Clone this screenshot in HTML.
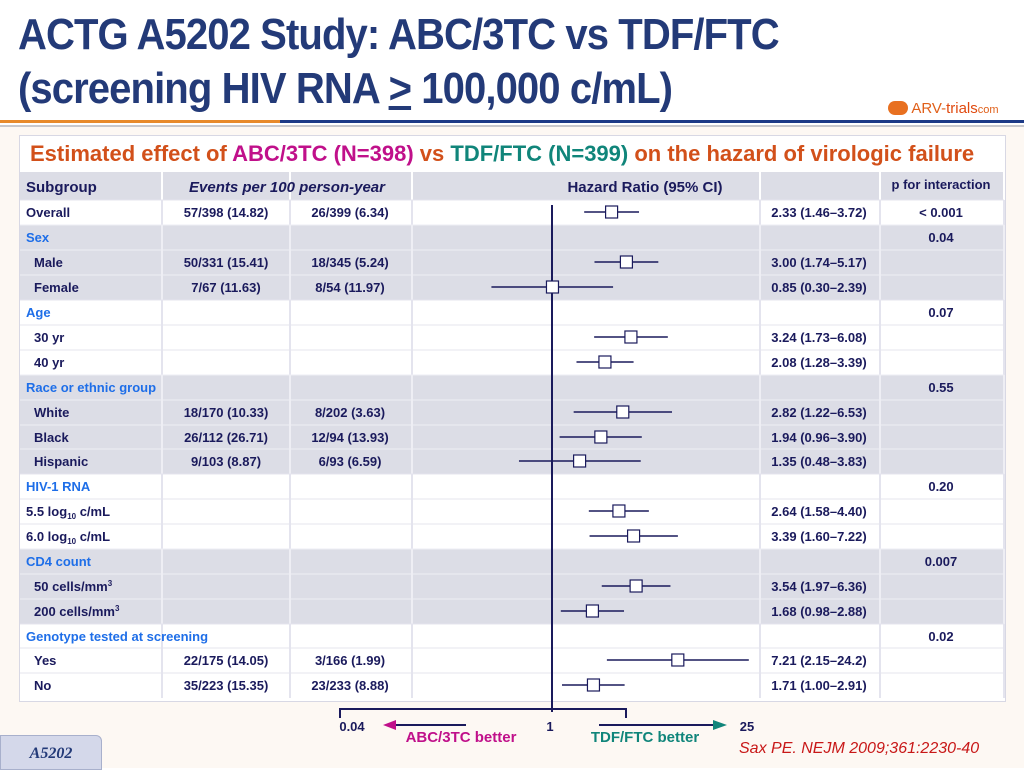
<!DOCTYPE html>
<html><head><meta charset="utf-8">
<style>
body{margin:0;width:1024px;height:768px;overflow:hidden;background:#fff;font-family:"Liberation Sans",sans-serif;position:relative}
.t{position:absolute;left:18px;font-weight:bold;color:#233a78;font-size:44px;letter-spacing:-1px;white-space:nowrap;transform:scaleX(0.91);transform-origin:0 0}
</style></head><body>
<div style="position:absolute;left:0;top:126px;width:1024px;height:642px;background:#fdf8f3"></div>
<div class="t" style="top:10px">ACTG A5202 Study: ABC/3TC vs TDF/FTC</div>
<div class="t" style="top:64px">(screening HIV RNA <u>&gt;</u> 100,000 c/mL)</div>
<div style="position:absolute;left:888px;top:100px;width:130px;height:22px;font-size:15px;color:#e0601a;white-space:nowrap"><span style="display:inline-block;width:20px;height:14px;background:#e87020;border-radius:7px;vertical-align:-2px"></span> ARV-<span style="color:#e04a10">trials</span><span style="font-size:11px">com</span></div>
<div style="position:absolute;left:0;top:120px;width:280px;height:3px;background:#e88a2a"></div>
<div style="position:absolute;left:280px;top:120px;width:744px;height:3px;background:#1c3a86"></div>
<div style="position:absolute;left:0;top:125px;width:1024px;height:2px;background:#c8c8cc"></div>
<div style="position:absolute;left:19px;top:135px;width:985px;height:565px;background:#fff;border:1px solid #d8d8e4"></div>
<div style="position:absolute;left:30px;top:141px;font-size:22px;font-weight:bold;color:#d2501a;white-space:nowrap;letter-spacing:0">Estimated effect of <span style="color:#c0108a">ABC/3TC (N=398)</span> vs <span style="color:#10857a">TDF/FTC (N=399)</span> on the hazard of virologic failure</div>
<svg id="svg" width="1024" height="768" style="position:absolute;left:0;top:0"></svg>
<div style="position:absolute;left:0;top:735px;width:100px;height:33px;background:#d4d8ea;border:1px solid #a8b0cc;border-radius:0 6px 0 0;font-family:'Liberation Serif',serif;font-style:italic;font-weight:bold;color:#233a78;font-size:16px;line-height:36px;text-align:center">A5202</div>
<div style="position:absolute;left:739px;top:740px;font-size:16px;font-style:italic;color:#c81818">Sax PE. NEJM 2009;361:2230-40</div>
<script>
const categories=["Overall","Male","Female","30 yr","40 yr","White","Black","Hispanic","5.5","6.0","50","200","Yes","No"];
const hr=[2.33,3.00,0.85,3.24,2.08,2.82,1.94,1.35,2.64,3.39,3.54,1.68,7.21,1.71];
const lo=[1.46,1.74,0.30,1.73,1.28,1.22,0.96,0.48,1.58,1.60,1.97,0.98,2.15,1.00];
const hi=[3.72,5.17,2.39,6.08,3.39,6.53,3.90,3.83,4.40,7.22,6.36,2.88,24.2,2.91];
const ciLabels=["2.33 (1.46–3.72)","3.00 (1.74–5.17)","0.85 (0.30–2.39)","3.24 (1.73–6.08)","2.08 (1.28–3.39)","2.82 (1.22–6.53)","1.94 (0.96–3.90)","1.35 (0.48–3.83)","2.64 (1.58–4.40)","3.39 (1.60–7.22)","3.54 (1.97–6.36)","1.68 (0.98–2.88)","7.21 (2.15–24.2)","1.71 (1.00–2.91)"];
const rowOf=[0,2,3,5,6,8,9,10,12,13,15,16,18,19];
const axisTicks=["0.04","1","25"];
const rows=[
["Overall","b","57/398 (14.82)","26/399 (6.34)","< 0.001",0],
["Sex","g","","","0.04",1],
["Male","i","50/331 (15.41)","18/345 (5.24)","",1],
["Female","i","7/67 (11.63)","8/54 (11.97)","",1],
["Age","g","","","0.07",0],
["30 yr","i","","","",0],
["40 yr","i","","","",0],
["Race or ethnic group","g","","","0.55",1],
["White","i","18/170 (10.33)","8/202 (3.63)","",1],
["Black","i","26/112 (26.71)","12/94 (13.93)","",1],
["Hispanic","i","9/103 (8.87)","6/93 (6.59)","",1],
["HIV-1 RNA","g","","","0.20",0],
["5.5 log<tspan font-size='8' dy='3'>10</tspan><tspan dy='-3'> c/mL</tspan>","b","","","",0],
["6.0 log<tspan font-size='8' dy='3'>10</tspan><tspan dy='-3'> c/mL</tspan>","b","","","",0],
["CD4 count","g","","","0.007",1],
["50 cells/mm<tspan font-size='8' dy='-5'>3</tspan>","i","","","",1],
["200 cells/mm<tspan font-size='8' dy='-5'>3</tspan>","i","","","",1],
["Genotype tested at screening","g","","","0.02",0],
["Yes","i","22/175 (14.05)","3/166 (1.99)","",0],
["No","i","35/223 (15.35)","23/233 (8.88)","",0]];
const rowY=[212,237,262,287,312,337,362,387,412,437,461,486,511,536,561,586,611,636,660,685];
const svg=document.getElementById('svg');
const NS='http://www.w3.org/2000/svg';
function mk(tag,attrs,html){const e=document.createElementNS(NS,tag);for(const k in attrs)e.setAttribute(k,attrs[k]);if(html!==undefined)e.innerHTML=html;svg.appendChild(e);return e;}
const X0=562,K=135;
function xs(v){return X0+K*Math.log10(v);}
const cols=[[20,162],[162,290],[290,412],[412,760],[760,880],[880,1004]];
const navy='#1a1a5c';
let e=mk('rect',{x:20,y:172,width:984,height:28,fill:'#dcdde6'});


cols.forEach(c=>{mk('line',{x1:c[1],y1:172,x2:c[1],y2:200,stroke:'#fff','stroke-width':2});});
e=mk('text',{x:26,y:192,'font-size':15,'font-weight':'bold',fill:navy},'Subgroup');


e=mk('text',{x:287,y:192,'font-size':15,'font-weight':'bold','font-style':'italic',fill:navy,'text-anchor':'middle'},'Events per 100 person-year');


e=mk('text',{x:645,y:192,'font-size':15,'font-weight':'bold',fill:navy,'text-anchor':'middle'},'Hazard Ratio (95% CI)');


e=mk('text',{x:941,y:189,'font-size':13,'font-weight':'bold',fill:navy,'text-anchor':'middle'},'p for interaction');


rows.forEach((r,i)=>{
 const y=rowY[i]-12;
 const bg=mk('rect',{x:20,y:y,width:984,height:25,fill:r[5]?'#dcdde6':'#fff'});
 
 
 cols.forEach(c=>{mk('line',{x1:c[1],y1:y,x2:c[1],y2:y+25,stroke:r[5]?'#eeeef4':'#e4e4ee','stroke-width':2});});
 mk('line',{x1:20,y1:y,x2:1004,y2:y,stroke:r[5]?'#eeeef4':'#e4e4ee','stroke-width':1});
});
rows.forEach((r,i)=>{
 const y=rowY[i]+5;
 const isG=r[1]==='g';
 const t=mk('text',{x:r[1]==='i'?34:26,y:y,'font-size':13,'font-weight':'bold',fill:isG?'#1e6ee8':navy},r[0]);
 
 
 if(r[2]){const a=mk('text',{x:226,y:y,'font-size':13,'font-weight':'bold',fill:navy,'text-anchor':'middle'},r[2]);
 
 
 const b=mk('text',{x:350,y:y,'font-size':13,'font-weight':'bold',fill:navy,'text-anchor':'middle'},r[3]);
 
 }
 if(r[4]){const p=mk('text',{x:941,y:y,'font-size':13,'font-weight':'bold',fill:navy,'text-anchor':'middle'},r[4]);
 
 }
});
e=mk('line',{x1:552,y1:205,x2:552,y2:712,stroke:navy,'stroke-width':2});


categories.forEach((c,i)=>{
 const y=rowY[rowOf[i]];
 const l=mk('line',{x1:xs(lo[i]),y1:y,x2:xs(hi[i]),y2:y,stroke:navy,'stroke-width':1.5});
 
 
 const s=mk('rect',{x:xs(hr[i])-6,y:y-6,width:12,height:12,fill:'#fff',stroke:navy,'stroke-width':1.2});
 
 
 const tx=mk('text',{x:819,y:y+5,'font-size':13,'font-weight':'bold',fill:navy,'text-anchor':'middle'},ciLabels[i]);
 
 
});
e=mk('path',{d:'M340 718 V709 H626 V718',fill:'none',stroke:navy,'stroke-width':2});


[[352,axisTicks[0]],[550,axisTicks[1]],[747,axisTicks[2]]].forEach(a=>{const t=mk('text',{x:a[0],y:731,'font-size':13,'font-weight':'bold',fill:navy,'text-anchor':'middle'},a[1]);

});
mk('line',{x1:395,y1:725,x2:466,y2:725,stroke:navy,'stroke-width':2});
e=mk('polygon',{points:'383,725 396,720 396,730',fill:'#c0108a'});


mk('line',{x1:599,y1:725,x2:714,y2:725,stroke:navy,'stroke-width':2});
e=mk('polygon',{points:'727,725 713,720 713,730',fill:'#10857a'});


e=mk('text',{x:461,y:742,'font-size':15,'font-weight':'bold',fill:'#c0108a','text-anchor':'middle'},'ABC/3TC better');


e=mk('text',{x:645,y:742,'font-size':15,'font-weight':'bold',fill:'#10857a','text-anchor':'middle'},'TDF/FTC better');


</script>
</body></html>
